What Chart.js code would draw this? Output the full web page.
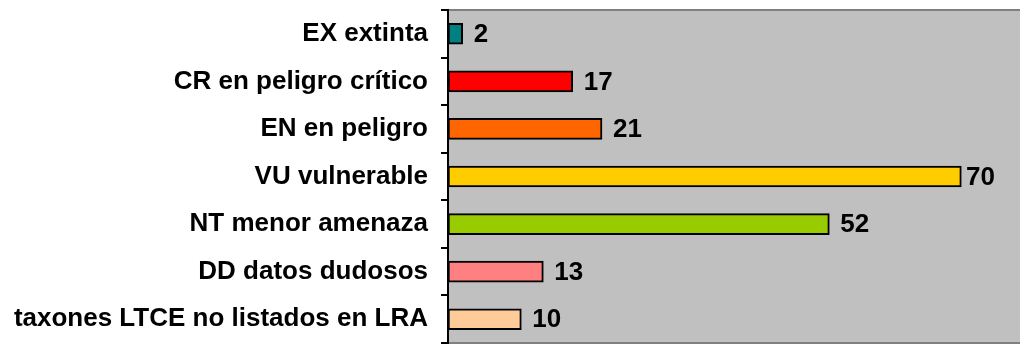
<!DOCTYPE html>
<html>
<head>
<meta charset="utf-8">
<script src="https://cdn.jsdelivr.net/npm/chart.js@4"></script>
<style>
  body { margin: 0; background: #fff; }
  canvas { display: block; }
</style>
</head>
<body>
<canvas id="chartCategorias" width="1020" height="345"></canvas>
<script>
// categorías de amenaza y número de taxones
const categorias = [
  'EX extinta',
  'CR en peligro crítico',
  'EN en peligro',
  'VU vulnerable',
  'NT menor amenaza',
  'DD datos dudosos',
  'taxones LTCE no listados en LRA'
];
const taxones = [2, 17, 21, 70, 52, 13, 10];
const colores = ['#008080', '#FF0000', '#FF6600', '#FFCC00', '#99CC00', '#FF8080', '#FFCC99'];

const fuente = '"Liberation Sans", Arial, sans-serif';

// fondo gris del área de trazado
const fondoGris = {
  id: 'fondoGris',
  beforeDraw(chart) {
    const { ctx, chartArea: a } = chart;
    ctx.save();
    ctx.fillStyle = '#C0C0C0';
    ctx.fillRect(a.left, a.top, a.right - a.left, a.bottom - a.top);
    ctx.strokeStyle = '#808080';
    ctx.lineWidth = 2;
    ctx.beginPath();
    ctx.moveTo(a.left, a.top);
    ctx.lineTo(a.right, a.top);
    ctx.moveTo(a.left, a.bottom);
    ctx.lineTo(a.right, a.bottom);
    ctx.stroke();
    ctx.restore();
  }
};

// etiquetas con el valor al final de cada barra
const etiquetas = {
  id: 'etiquetas',
  afterDatasetsDraw(chart) {
    const { ctx } = chart;
    const meta = chart.getDatasetMeta(0);
    ctx.save();
    ctx.font = 'bold 26px ' + fuente;
    ctx.fillStyle = '#000';
    ctx.textAlign = 'left';
    ctx.textBaseline = 'middle';
    meta.data.forEach((bar, i) => {
      const txt = String(taxones[i]);
      const w = ctx.measureText(txt).width;
      const x = Math.min(bar.x + 11, 995 - w);
      ctx.fillText(txt, x, bar.y + 1);
    });
    ctx.restore();
  }
};

const ctx = document.getElementById('chartCategorias').getContext('2d');
const chartCategorias = new Chart(ctx, {
  type: 'bar',
  data: {
    labels: categorias,
    datasets: [{
      data: taxones,
      backgroundColor: colores,
      borderColor: '#000',
      borderWidth: 2,
      borderSkipped: false,
      barThickness: 21
    }]
  },
  options: {
    indexAxis: 'y',
    responsive: false,
    animation: false,
    layout: { padding: { top: 10, bottom: 2, right: 0, left: 0 } },
    plugins: {
      legend: { display: false },
      tooltip: { enabled: false }
    },
    scales: {
      x: { display: false, min: 0, max: 78 },
      y: {
        afterFit(scale) {
          scale.width = 448;
          scale.paddingTop = 0;
          scale.paddingBottom = 0;
        },
        border: { display: true, color: '#000', width: 2 },
        grid: {
          offset: true,
          drawOnChartArea: false,
          drawTicks: true,
          tickLength: 7,
          color: '#000',
          lineWidth: 2
        },
        ticks: {
          color: '#000',
          padding: 13,
          font: { family: fuente, size: 26, weight: 'bold' }
        }
      }
    }
  },
  plugins: [fondoGris, etiquetas]
});
</script>
</body>
</html>
